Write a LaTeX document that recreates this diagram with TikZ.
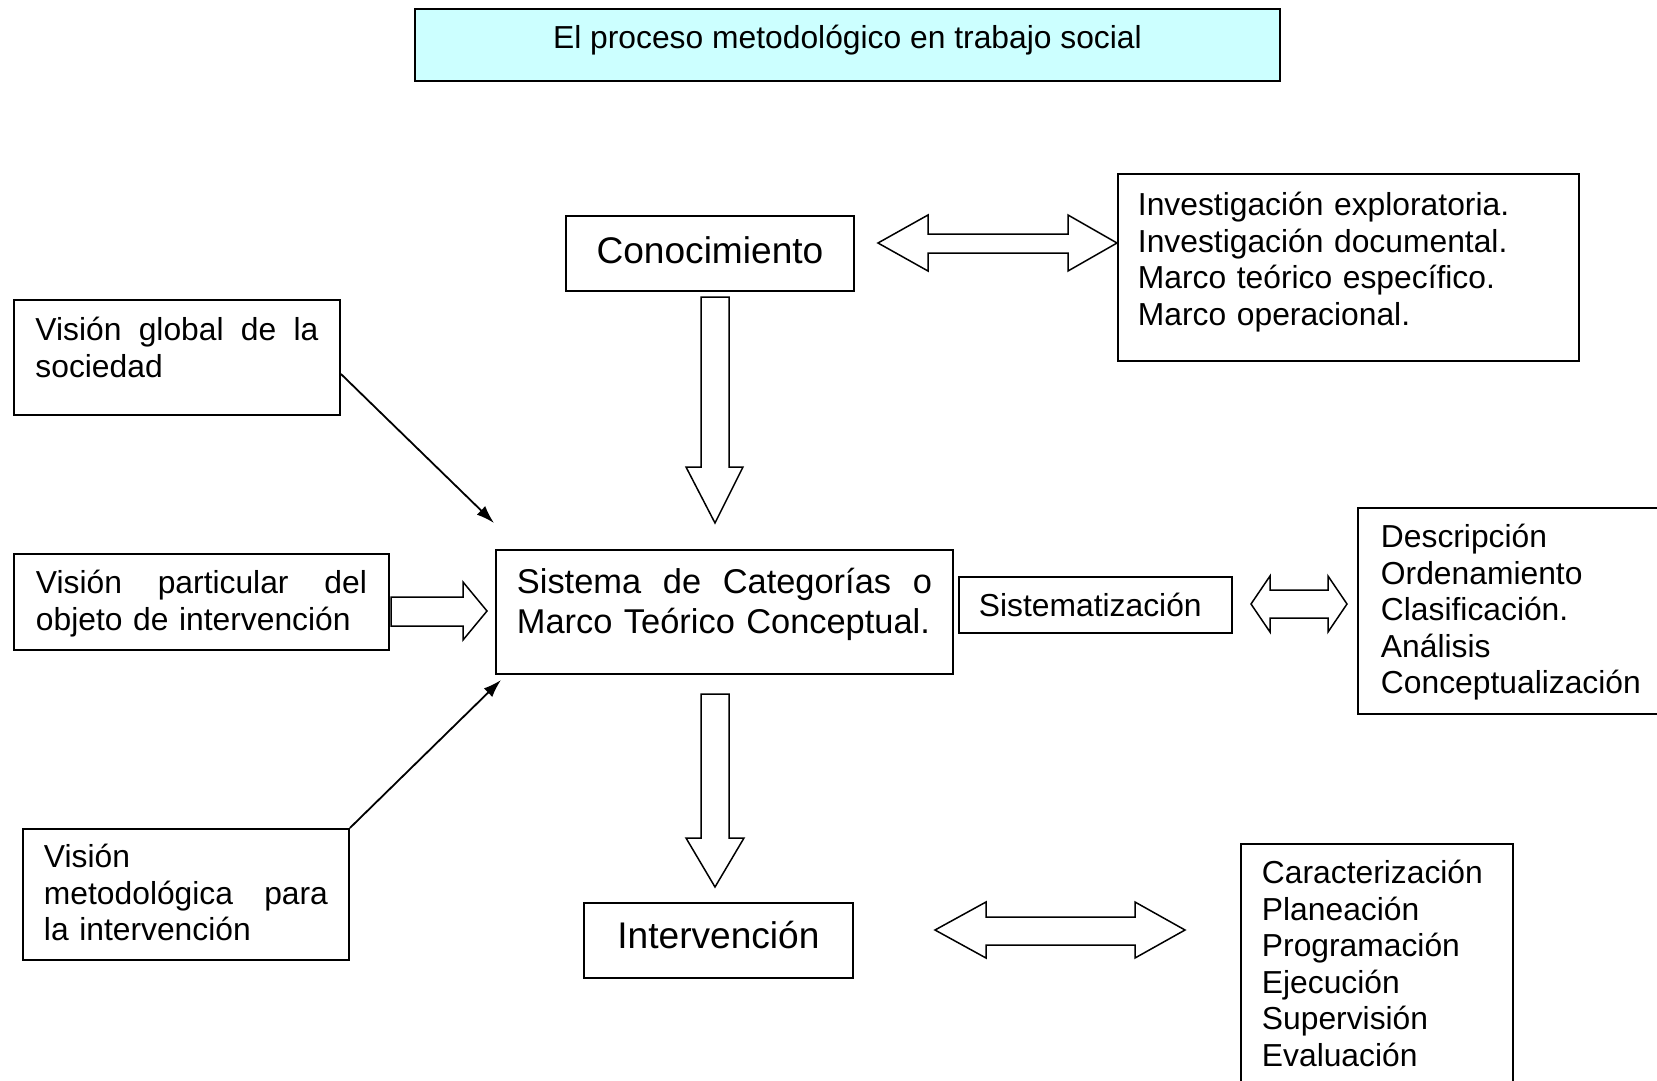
\documentclass[tikz,border=0pt]{standalone}
\usepackage{fontspec}
\setmainfont{Liberation Sans}
\usetikzlibrary{arrows.meta}
\definecolor{celeste}{HTML}{CCFFFF}
\newcommand{\letra}[2]{\fontsize{#1pt}{#2pt}\selectfont}

\begin{document}
\begin{tikzpicture}[x=1pt, y=-1pt,
		caja/.style={draw, line width=1.9pt, anchor=north west, inner sep=0pt, align=left, font=\letra{31.8}{36.5}},
		bloque/.style={draw, line width=1.5pt, fill=white, line join=miter},
		flecha/.style={line width=1.8pt, -{Latex[length=18pt, width=12pt]}}]
		\useasboundingbox (0,0) rectangle (1657,1081);
		\node (titulo) at (414,8) [caja, fill=celeste, align=center, minimum width=865pt, text height=40pt, text depth=32pt] {El proceso metodológico en trabajo social};
		\node (conoc) at (565,215) [caja, align=center, minimum width=288pt, text height=48pt, text depth=27pt, font=\letra{37.1}{42.7}] {Conocimiento};
		\node (invest) at (1117,173) [caja, inner xsep=20pt, text width=421pt, text height=42pt, text depth=145pt] {Investigación exploratoria.\\ Investigación documental.\\ Marco teórico específico.\\ Marco operacional.};
		\node (vglobal) at (13,299) [caja, inner xsep=21.5pt, text width=283pt, text height=41pt, text depth=74pt] {Visión\hfill global\hfill de\hfill la\\ sociedad};
		\node (vpartic) at (13,553) [caja, inner xsep=22pt, text width=331pt, text height=40pt, text depth=56pt] {Visión\hfill particular\hfill del\\ objeto de intervención};
		\node (sistema) at (495,549) [caja, inner xsep=21pt, text width=415pt, text height=44pt, text depth=80pt, font=\letra{34.4}{39.5}] {Sistema\hfill de\hfill Categorías\hfill o\\ Marco Teórico Conceptual.};
		\node (sistem) at (958,576) [caja, inner xsep=20pt, text width=233pt, text height=40pt, text depth=16pt] {Sistematización};
		\node (descr) at (1357,507) [caja, inner xsep=23pt, text width=280pt, text height=40pt, text depth=166pt] {Descripción\\ Ordenamiento\\ Clasificación.\\ Análisis\\ Conceptualización};
		\node (vmetod) at (22,828) [caja, inner xsep=21pt, text width=284pt, text height=39pt, text depth=92pt] {Visión\\ metodológica\hfill para\\ la intervención};
		\node (interv) at (583,902) [caja, align=center, minimum width=269pt, text height=46pt, text depth=29pt, font=\letra{37.1}{42.7}] {Intervención};
		\node (caract) at (1240,843) [caja, inner xsep=21pt, text width=230pt, text height=40pt, text depth=240pt] {Caracterización\\ Planeación\\ Programación\\ Ejecución\\ Supervisión\\ Evaluación};
		% flechas finas hacia el sistema
		\coordinate (pglobal) at (494,523);
		\coordinate (pmetod) at (501,680);
		\draw [flecha] ([yshift=-16.5pt]vglobal.east) -- (pglobal);
		\draw [flecha] (vmetod.north east) -- (pmetod);
		% flechas de bloque
		\draw [bloque] (701,297) -- (729,297) -- (729,467) -- (743,467) -- (715,523) -- (686,467) -- (701,467) -- cycle;
		\draw [bloque] (701,694) -- (729,694) -- (729,838) -- (744,838) -- (715,887) -- (686,838) -- (701,838) -- cycle;
		\draw [bloque] (391,597) -- (463,597) -- (463,582) -- (487,611) -- (463,640) -- (463,626) -- (391,626) -- cycle;
		\draw [bloque] (878,243) -- (928,215) -- (928,234) -- (1068,234) -- (1068,215) -- (1117,243) -- (1068,271) -- (1068,253) -- (928,253) -- (928,271) -- cycle;
		\draw [bloque] (1251,604) -- (1270,576) -- (1270,590) -- (1328,590) -- (1328,576) -- (1347,604) -- (1328,632) -- (1328,618) -- (1270,618) -- (1270,632) -- cycle;
		\draw [bloque] (935,930) -- (986,902) -- (986,917) -- (1135,917) -- (1135,902) -- (1185,930) -- (1135,958) -- (1135,945) -- (986,945) -- (986,958) -- cycle;
	\end{tikzpicture}
\end{document}
